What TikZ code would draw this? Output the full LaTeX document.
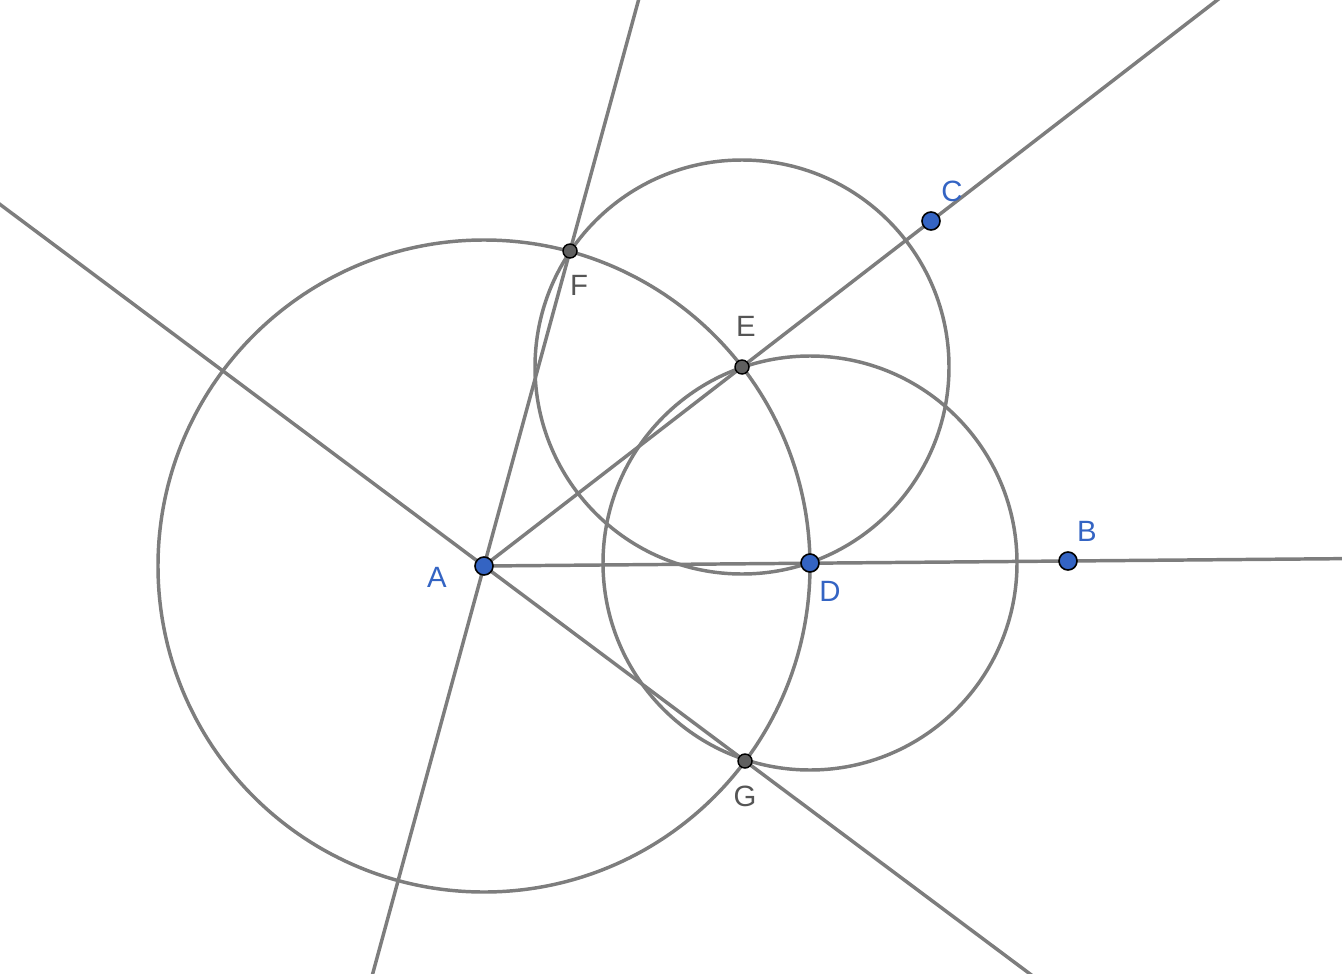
\documentclass[tikz,border=0pt]{standalone}
\usepackage{fontspec}
\setmainfont{Liberation Sans}
\usetikzlibrary{calc}

\definecolor{linegray}{RGB}{125,125,125}
\definecolor{ptblue}{RGB}{52,100,195}
\definecolor{ptgray}{RGB}{95,95,95}
\definecolor{lblgray}{RGB}{85,85,85}

\tikzset{
  geoline/.style={draw=linegray, line width=2.6pt},
  bluept/.style={circle, draw=black, fill=ptblue, line width=1.2pt, inner sep=0pt, minimum size=13.5pt},
  graypt/.style={circle, draw=black, fill=ptgray, line width=1.1pt, inner sep=0pt, minimum size=10.5pt},
  bluelbl/.style={text=ptblue, inner sep=0pt, font=\fontsize{22}{26}\selectfont},
  graylbl/.style={text=lblgray, inner sep=0pt, font=\fontsize{22}{26}\selectfont}
}

\begin{document}
\begin{tikzpicture}[x=0.75pt,y=0.75pt,yscale=-1,xscale=1]
\useasboundingbox (0,0) rectangle (1342,974);
\clip (0,0) rectangle (1342,974);

% Points
\coordinate (A) at (484,566);
\coordinate (B) at (1068,561);
\coordinate (C) at (931,221);
\coordinate (D) at (810,563);
\coordinate (E) at (742,367);
\coordinate (F) at (570,251);
\coordinate (G) at (745,761);

%Shape: Circle
\draw [geoline] (A) circle [radius=326];
%Shape: Circle
\draw [geoline] (E) circle [radius=207];
%Shape: Circle
\draw [geoline] (D) circle [radius=207];

%Straight Lines
\draw [geoline] (A) -- ($(A)!1.5!(B)$);
%Straight Lines
\draw [geoline] (A) -- ($(A)!1.72!(C)$);
%Straight Lines
\draw [geoline] ($(A)!-1.32!(F)$) -- ($(A)!1.82!(F)$);
%Straight Lines
\draw [geoline] ($(A)!-1.88!(G)$) -- ($(A)!2.12!(G)$);

% Dots
\node [graypt] (dE) at (E) {};
\node [graypt] (dF) at (F) {};
\node [graypt] (dG) at (G) {};
\node [bluept] (dA) at (A) {};
\node [bluept] (dB) at (B) {};
\node [bluept] (dC) at (C) {};
\node [bluept] (dD) at (D) {};

% Text Node
\node [bluelbl] (lA) at (437,577) {A};
% Text Node
\node [bluelbl] (lB) at (1087,531) {B};
% Text Node
\node [bluelbl] (lC) at (952,191) {C};
% Text Node
\node [bluelbl] (lD) at (830,591) {D};
% Text Node
\node [graylbl] (lE) at (746,326) {E};
% Text Node
\node [graylbl] (lF) at (579,285) {F};
% Text Node
\node [graylbl] (lG) at (745,796) {G};

\end{tikzpicture}
\end{document}
